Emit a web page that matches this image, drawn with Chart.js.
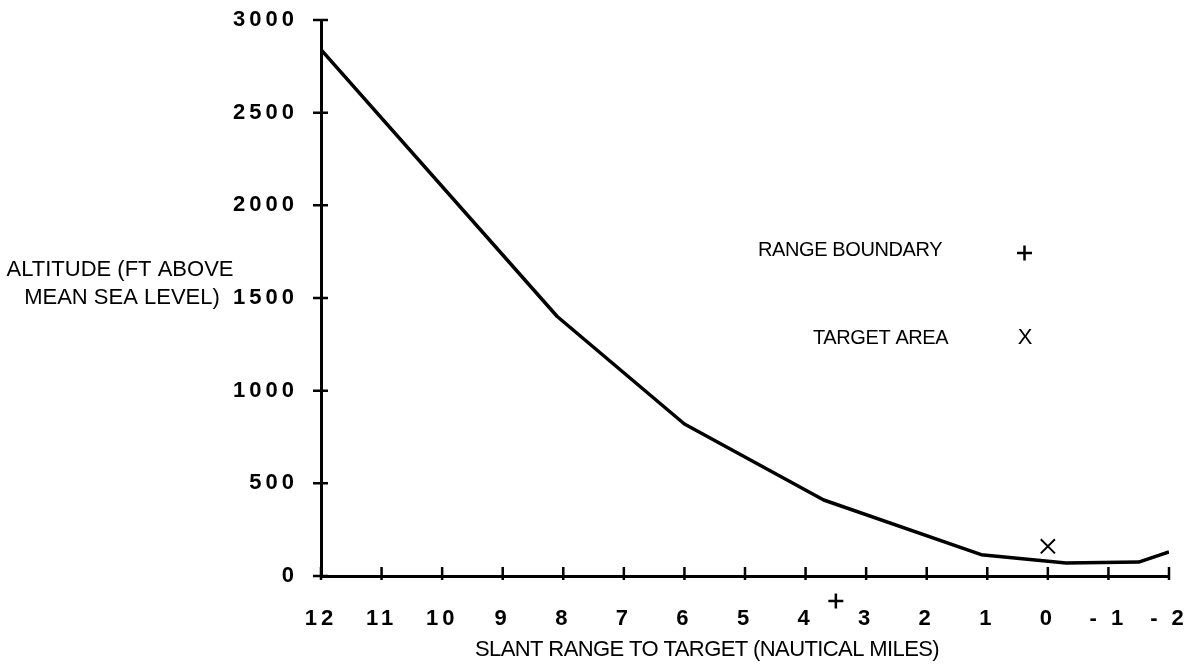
<!DOCTYPE html>
<html>
<head>
<meta charset="utf-8">
<script src="https://cdn.jsdelivr.net/npm/chart.js@4.4.1/dist/chart.umd.min.js"></script>
<style>
  html, body { margin: 0; padding: 0; background: #fff; }
  #wrap { width: 1191px; height: 668px; }
</style>
</head>
<body>
<div id="wrap"><canvas id="altChart" width="1191" height="668"></canvas></div>
<script>
// flight profile
var rangeNm = [12, 8.1, 6, 3.7, 1.1, -0.3, -1.5, -2];
var altitudeFt = [2840, 1400, 820, 410, 115, 70, 75, 130];

// markers: range boundary (+, sits just under the axis) and target area (X)
var boundaryRange = [3.5];
var boundaryAlt = [-135];
var targetRange = [0];
var targetAlt = [160];

// axis ticks
var xTicks = [12, 11, 10, 9, 8, 7, 6, 5, 4, 3, 2, 1, 0, -1, -2];
var yTicks = [0, 500, 1000, 1500, 2000, 2500, 3000];

function pts(xs, ys) {
  return xs.map(function(x, i) { return { x: x, y: ys[i] }; });
}

var tickFont = { family: 'Liberation Sans', size: 22, weight: 'bold' };

// wide spaced digits on the axes, like the old typewriter labels
var spacingPlugin = {
  id: 'spacing',
  beforeDraw: function(chart) {
    chart.ctx.letterSpacing = '4px';
  }
};

function plus(ctx, x, y, r) {
  ctx.moveTo(x - r, y);
  ctx.lineTo(x + r, y);
  ctx.moveTo(x, y - r);
  ctx.lineTo(x, y + r);
}

var decorPlugin = {
  id: 'decor',
  afterDraw: function(chart) {
    var ctx = chart.ctx;
    var xs = chart.scales.x, ys = chart.scales.y;
    var ax = chart.chartArea.left, ay = chart.chartArea.bottom;

    ctx.save();
    ctx.letterSpacing = '0px';
    ctx.strokeStyle = '#000';
    ctx.lineWidth = 2.5;

    // tick marks crossing the axes
    ctx.beginPath();
    ys.ticks.forEach(function(t) {
      var py = ys.getPixelForValue(t.value);
      ctx.moveTo(ax - 8, py);
      ctx.lineTo(ax + 7, py);
    });
    xs.ticks.forEach(function(t) {
      var px = xs.getPixelForValue(t.value);
      ctx.moveTo(px, ay - 9);
      ctx.lineTo(px, ay + 4);
    });
    // range boundary marks (below the axis, so outside the plot area)
    boundaryRange.forEach(function(r, i) {
      plus(ctx, xs.getPixelForValue(r), ys.getPixelForValue(boundaryAlt[i]), 7.5);
    });
    // plus sign of the key
    plus(ctx, 1024.5, 253, 7.5);
    ctx.stroke();

    ctx.fillStyle = '#000';
    ctx.textAlign = 'center';
    ctx.textBaseline = 'middle';

    // y title, horizontal on two lines
    ctx.font = '22px "Liberation Sans"';
    ctx.fillText('ALTITUDE (FT ABOVE', 120, 270);
    ctx.fillText('MEAN SEA LEVEL)', 122, 298);

    // x title
    ctx.letterSpacing = '-0.6px';
    ctx.fillText('SLANT RANGE TO TARGET (NAUTICAL MILES)', 707, 650);

    // key
    ctx.textAlign = 'left';
    ctx.letterSpacing = '-0.4px';
    ctx.font = '20px "Liberation Sans"';
    ctx.fillText('RANGE BOUNDARY', 758, 250);
    ctx.fillText('TARGET AREA', 813, 338);
    ctx.letterSpacing = '0px';
    ctx.textAlign = 'center';
    ctx.font = '22px "Liberation Sans"';
    ctx.fillText('X', 1025, 338);
    ctx.restore();
  }
};

function plainLabel(value) {
  return value < 0 ? '- ' + Math.abs(value) : String(value);
}

var ctx = document.getElementById('altChart').getContext('2d');
var chart = new Chart(ctx, {
  type: 'line',
  data: {
    datasets: [{
      label: 'Altitude',
      data: pts(rangeNm, altitudeFt),
      borderColor: '#000',
      borderWidth: 3.5,
      borderJoinStyle: 'round',
      pointRadius: 0,
      tension: 0,
      fill: false
    }, {
      label: 'Target area',
      data: pts(targetRange, targetAlt),
      showLine: false,
      pointStyle: 'crossRot',
      pointRadius: 10,
      pointBorderWidth: 2,
      pointBorderColor: '#000',
      clip: false
    }]
  },
  options: {
    responsive: false,
    animation: false,
    layout: { padding: { left: 0, top: 20, right: 22, bottom: 0 } },
    plugins: {
      legend: { display: false },
      tooltip: { enabled: false }
    },
    scales: {
      x: {
        type: 'linear',
        reverse: true,
        min: -2,
        max: 12,
        afterBuildTicks: function(scale) {
          scale.ticks = xTicks.map(function(v) { return { value: v }; });
        },
        afterFit: function(scale) {
          scale.height = 92;
          scale.paddingLeft = 0;
          scale.paddingRight = 0;
        },
        grid: { display: false },
        border: { display: true, color: '#000', width: 3 },
        ticks: {
          font: tickFont,
          color: '#000',
          padding: 22,
          maxRotation: 0,
          autoSkip: false,
          callback: plainLabel
        }
      },
      y: {
        min: 0,
        max: 3000,
        afterBuildTicks: function(scale) {
          scale.ticks = yTicks.map(function(v) { return { value: v }; });
        },
        afterFit: function(scale) {
          scale.width = 321;
          scale.paddingTop = 0;
          scale.paddingBottom = 0;
        },
        grid: { display: false },
        border: { display: true, color: '#000', width: 3 },
        ticks: {
          font: tickFont,
          color: '#000',
          padding: 15,
          callback: plainLabel
        }
      }
    }
  },
  plugins: [spacingPlugin, decorPlugin]
});
</script>
</body>
</html>
